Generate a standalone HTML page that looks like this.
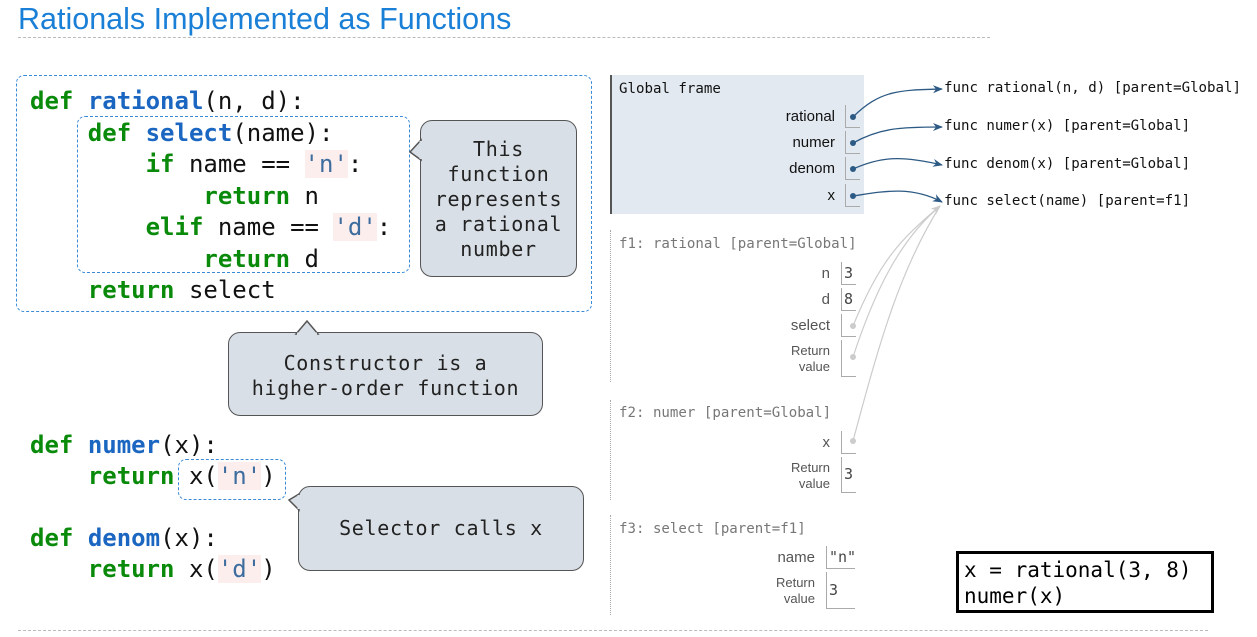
<!DOCTYPE html>
<html><head><meta charset="utf-8"><style>
body{margin:0;width:1257px;height:637px;background:#fff;position:relative;overflow:hidden;font-family:"Liberation Sans",sans-serif}
.a{position:absolute;white-space:pre}
.code{font-family:"DejaVu Sans Mono","Liberation Mono",monospace;font-size:24px;color:#111;line-height:31.5px}
.k{color:#0a8a0a;font-weight:bold}.f{color:#1a66c0;font-weight:bold}.s{color:#3d6d9e;background:#fdeeee}
.box{position:absolute;border:1.5px dashed #3a8ad6;border-radius:8px}
.call{position:absolute;background:#d8dfe6;border:1.5px solid #555;border-radius:12px;font-family:"DejaVu Sans Mono","Liberation Mono",monospace;font-size:20px;letter-spacing:0.7px;color:#222;text-align:center;line-height:25px;box-sizing:border-box}
.m{font-family:"DejaVu Sans Mono","Liberation Mono",monospace;font-size:14.1px;color:#111}
.g{color:#777}
.lab{position:absolute;font-size:15px;text-align:right;color:#111}
.cell{position:absolute;border-left:1px solid #aaa;border-bottom:1px solid #aaa;width:12px;font-family:"DejaVu Sans Mono",monospace;font-size:15px;color:#444;padding-left:2px}
</style></head><body>
<div class="a" style="left:18px;top:2px;font-size:30.5px;color:#1a7fd6">Rationals Implemented as Functions</div>
<div class="a" style="left:18px;top:37px;width:972px;border-top:1px dashed #bbb"></div>
<div class="a" style="left:18px;top:630px;width:1190px;border-top:1px dashed #bbb"></div>

<div class="box" style="left:16px;top:75px;width:574px;height:235px"></div>
<div class="box" style="left:77px;top:116px;width:331px;height:155px"></div>
<div class="a code" style="left:30px;top:86px"><span class="k">def</span> <span class="f">rational</span>(n, d):
    <span class="k">def</span> <span class="f">select</span>(name):
        <span class="k">if</span> name == <span class="s">'n'</span>:
            <span class="k">return</span> n
        <span class="k">elif</span> name == <span class="s">'d'</span>:
            <span class="k">return</span> d
    <span class="k">return</span> select</div>
<div class="box" style="left:178px;top:459px;width:106px;height:39px"></div>
<div class="a code" style="left:30px;top:430px;line-height:31px"><span class="k">def</span> <span class="f">numer</span>(x):
    <span class="k">return</span> x(<span class="s">'n'</span>)

<span class="k">def</span> <span class="f">denom</span>(x):
    <span class="k">return</span> x(<span class="s">'d'</span>)</div>

<div class="call" style="left:420px;top:120px;width:157px;height:157px;padding-top:16px">This<br>function<br>represents<br>a rational<br>number</div>
<div class="call" style="left:228px;top:332px;width:315px;height:84px;padding-top:18px">Constructor is a<br>higher-order function</div>
<div class="call" style="left:298px;top:486px;width:286px;height:85px;padding-top:29px">Selector calls x</div>
<svg class="a" style="left:0;top:0" width="1257" height="637">
<polygon points="421,140 410,152 421,160" fill="#d8dfe6" stroke="#555" stroke-width="1.5"/>
<line x1="421" y1="141" x2="421" y2="159" stroke="#d8dfe6" stroke-width="3"/>
<polygon points="296,334 307,321 318,334" fill="#d8dfe6" stroke="#555" stroke-width="1.5"/>
<line x1="297" y1="334" x2="317" y2="334" stroke="#d8dfe6" stroke-width="3"/>
<polygon points="299,494 289,500 299,510" fill="#d8dfe6" stroke="#555" stroke-width="1.5"/>
<line x1="299" y1="495" x2="299" y2="509" stroke="#d8dfe6" stroke-width="3"/>
</svg>

<div class="a" style="left:610px;top:75px;width:252px;height:139px;background:#e2e9f1;border-left:2px solid #555"></div>
<div class="a m" style="left:619px;top:81px">Global frame</div>
<div class="lab" style="left:740px;top:108px;width:95px">rational</div>
<div class="lab" style="left:740px;top:134px;width:95px">numer</div>
<div class="lab" style="left:740px;top:160px;width:95px">denom</div>
<div class="lab" style="left:740px;top:187px;width:95px">x</div>
<div class="cell" style="left:845px;top:105px;height:22px"></div>
<div class="cell" style="left:845px;top:131px;height:22px"></div>
<div class="cell" style="left:845px;top:157px;height:22px"></div>
<div class="cell" style="left:845px;top:184px;height:22px"></div>
<div class="a m" style="left:944px;top:80px">func rational(n, d) [parent=Global]</div>
<div class="a m" style="left:944px;top:118px">func numer(x) [parent=Global]</div>
<div class="a m" style="left:944px;top:156px">func denom(x) [parent=Global]</div>
<div class="a m" style="left:944px;top:193px">func select(name) [parent=f1]</div>

<div class="a" style="left:610px;top:230px;height:152px;border-left:1px dotted #aaa"></div>
<div class="a m g" style="left:619px;top:236px">f1: rational [parent=Global]</div>
<div class="lab" style="left:740px;top:265px;width:90px;color:#555">n</div>
<div class="cell" style="left:841px;top:262px;height:22px;line-height:22px">3</div>
<div class="lab" style="left:740px;top:291px;width:90px;color:#555">d</div>
<div class="cell" style="left:841px;top:288px;height:22px;line-height:22px">8</div>
<div class="lab" style="left:740px;top:317px;width:90px;color:#555">select</div>
<div class="cell" style="left:841px;top:314px;height:22px"></div>
<div class="lab" style="left:740px;top:343px;width:90px;color:#555;font-size:13px;line-height:16px">Return<br>value</div>
<div class="cell" style="left:841px;top:340px;height:36px"></div>

<div class="a" style="left:610px;top:400px;height:100px;border-left:1px dotted #aaa"></div>
<div class="a m g" style="left:619px;top:405px">f2: numer [parent=Global]</div>
<div class="lab" style="left:740px;top:434px;width:90px;color:#555">x</div>
<div class="cell" style="left:841px;top:431px;height:22px"></div>
<div class="lab" style="left:740px;top:460px;width:90px;color:#555;font-size:13px;line-height:16px">Return<br>value</div>
<div class="cell" style="left:841px;top:457px;height:35px;line-height:35px">3</div>

<div class="a" style="left:610px;top:515px;height:100px;border-left:1px dotted #aaa"></div>
<div class="a m g" style="left:619px;top:521px">f3: select [parent=f1]</div>
<div class="lab" style="left:720px;top:549px;width:95px;color:#555">name</div>
<div class="cell" style="left:826px;top:546px;height:22px;width:26px;line-height:22px">"n"</div>
<div class="lab" style="left:720px;top:575px;width:95px;color:#555;font-size:13px;line-height:16px">Return<br>value</div>
<div class="cell" style="left:826px;top:572px;height:36px;width:26px;line-height:36px">3</div>

<div class="a" style="left:956px;top:551px;width:258px;height:62px;border:3.5px solid #000;box-sizing:border-box"></div>
<div class="a" style="left:964px;top:557px;font-family:'DejaVu Sans Mono','Liberation Mono',monospace;font-size:21px;line-height:26px;color:#000">x = rational(3, 8)
numer(x)</div>

<svg class="a" style="left:0;top:0" width="1257" height="637">
<defs>
<marker id="ab" markerWidth="10" markerHeight="10" refX="9" refY="5" orient="auto" markerUnits="userSpaceOnUse"><path d="M0,1 L10,5 L0,9 L3,5z" fill="#2d5a85"/></marker>
<marker id="ag" markerWidth="10" markerHeight="10" refX="9" refY="5" orient="auto" markerUnits="userSpaceOnUse"><path d="M0,1 L10,5 L0,9 L3,5z" fill="#ccc"/></marker>
</defs>
<g fill="none" stroke="#2d5a85" stroke-width="1.3">
<path d="M853,117 C880,90 900,90 942,89" marker-end="url(#ab)"/>
<path d="M853,143 C880,128 900,127 942,127" marker-end="url(#ab)"/>
<path d="M853,169 C880,157 900,155 942,165" marker-end="url(#ab)"/>
<path d="M853,196 C880,192 910,185 942,202" marker-end="url(#ab)"/>
</g>
<g fill="#2d5a85"><circle cx="853" cy="117" r="3"/><circle cx="853" cy="143" r="3"/><circle cx="853" cy="169" r="3"/><circle cx="853" cy="196" r="3"/></g>
<g fill="none" stroke="#ccc" stroke-width="1.2">
<path d="M853,326 C880,260 900,240 940,206" marker-end="url(#ag)"/>
<path d="M853,357 C875,290 900,240 940,206"/>
<path d="M853,441 C880,340 900,270 940,206"/>
</g>
<g fill="#ccc"><circle cx="853" cy="326" r="3"/><circle cx="853" cy="357" r="3"/><circle cx="853" cy="441" r="3"/></g>
</svg>
</body></html>
